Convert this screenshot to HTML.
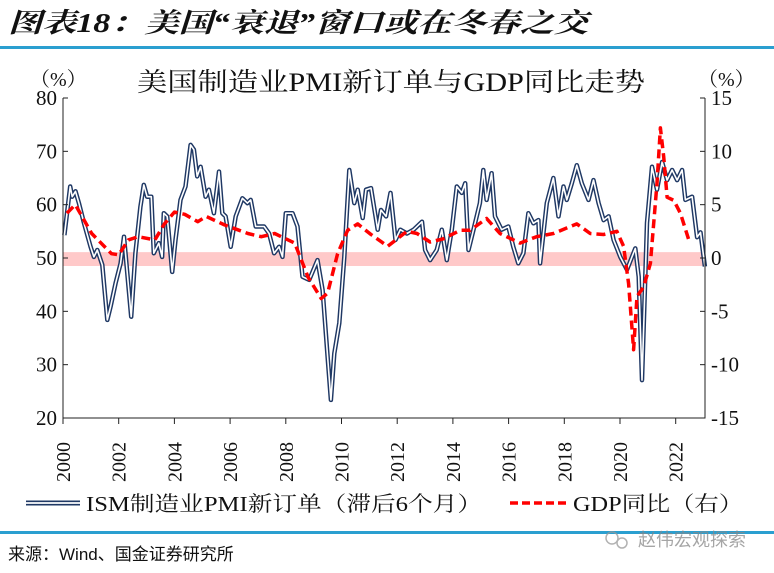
<!DOCTYPE html>
<html><head><meta charset="utf-8"><style>
html,body{margin:0;padding:0;background:#fff;}
svg{display:block;}
</style></head><body>
<svg width="774" height="573" viewBox="0 0 774 573" xmlns="http://www.w3.org/2000/svg">
<text x="8" y="32" font-family="'Liberation Serif','Noto Serif CJK SC',serif" font-size="27" font-weight="bold" font-style="italic" fill="#111" textLength="580" lengthAdjust="spacingAndGlyphs">图表18：美国“衰退”窗口或在冬春之交</text>
<rect x="0" y="46" width="774" height="3" fill="#2a9fd0"/>
<text x="391" y="91" text-anchor="middle" font-family="'Liberation Serif','Noto Serif CJK SC',serif" font-size="26" fill="#111" textLength="508" lengthAdjust="spacingAndGlyphs">美国制造业PMI新订单与GDP同比走势</text>
<text x="30" y="86" font-family="'Liberation Serif','Noto Serif CJK SC',serif" font-size="20" fill="#111">（%）</text>
<text x="698" y="86" font-family="'Liberation Serif','Noto Serif CJK SC',serif" font-size="20" fill="#111">（%）</text>
<g id="plot"></g>
<g>
<line x1="26" y1="503" x2="80" y2="503" stroke="#1f3864" stroke-width="5"/>
<line x1="26" y1="503" x2="80" y2="503" stroke="#fff" stroke-width="1.8"/>
<text x="86" y="511" font-family="'Liberation Serif','Noto Serif CJK SC',serif" font-size="21" fill="#111" textLength="396" lengthAdjust="spacingAndGlyphs">ISM制造业PMI新订单（滞后6个月）</text>
<line x1="510" y1="503" x2="567" y2="503" stroke="#ff0000" stroke-width="3.5" stroke-dasharray="8,4"/>
<text x="573" y="511" font-family="'Liberation Serif','Noto Serif CJK SC',serif" font-size="21" fill="#111" textLength="170" lengthAdjust="spacingAndGlyphs">GDP同比（右）</text>
</g>
<rect x="0" y="531" width="774" height="3" fill="#2a9fd0"/>
<text x="8" y="560" font-family="'Liberation Sans','Noto Sans CJK SC',sans-serif" font-size="17" fill="#111">来源：Wind、国金证券研究所</text>
<g opacity="0.75">
<circle cx="612" cy="538" r="6" fill="none" stroke="#999" stroke-width="1.5"/>
<circle cx="622" cy="543" r="5" fill="none" stroke="#999" stroke-width="1.5"/>
<text x="638" y="546" font-family="'Liberation Sans','Noto Sans CJK SC',sans-serif" font-size="18" fill="#888">赵伟宏观探索</text>
</g>
</svg>
<script>
const ismYears=[2000.05,2000.26,2000.33,2000.45,2000.57,2000.75,2000.99,2001.11,2001.23,2001.41,2001.59,2001.71,2001.89,2002.07,2002.19,2002.45,2002.6,2002.78,2002.9,2003.02,2003.17,2003.26,2003.44,2003.56,2003.62,2003.74,2003.92,2004.04,2004.22,2004.40,2004.58,2004.70,2004.82,2004.94,2005.12,2005.24,2005.42,2005.6,2005.72,2005.84,2006.02,2006.2,2006.44,2006.62,2006.74,2006.92,2007.22,2007.40,2007.58,2007.76,2007.88,2008.0,2008.24,2008.42,2008.6,2008.84,2009.14,2009.32,2009.5,2009.62,2009.74,2009.92,2010.1,2010.28,2010.46,2010.58,2010.76,2010.88,2011.06,2011.30,2011.42,2011.6,2011.76,2011.94,2012.11,2012.35,2012.59,2012.89,2013.0,2013.18,2013.42,2013.6,2013.78,2013.96,2014.14,2014.32,2014.44,2014.56,2014.74,2014.97,2015.09,2015.21,2015.39,2015.51,2015.75,2015.99,2016.17,2016.35,2016.53,2016.71,2016.89,2017.07,2017.13,2017.25,2017.37,2017.61,2017.79,2017.97,2018.09,2018.27,2018.45,2018.63,2018.87,2019.05,2019.23,2019.41,2019.59,2019.77,2020.01,2020.25,2020.55,2020.67,2020.79,2020.97,2021.15,2021.33,2021.51,2021.69,2021.87,2022.05,2022.23,2022.35,2022.59,2022.77,2022.89,2023.05];
const ismValues=[54.3,63.4,61.5,62.5,60.3,56.6,52.1,50.2,51.5,48.7,38.4,40.9,45.3,49.0,54.0,39.0,50.9,59.6,63.7,61.5,61.5,50.9,52.8,50.2,58.4,57.8,47.4,53.4,60.9,63.4,71.2,70.3,65.3,67.1,61.5,62.8,58.4,66.2,58.4,57.8,52.1,57.8,61.2,60.3,60.9,55.9,55.9,54.6,50.9,52.1,50.2,58.4,58.4,55.9,46.5,45.9,49.6,44.0,31.5,23.4,32.1,37.8,50.2,66.5,60.3,62.8,57.5,62.8,63.1,55.3,59.0,57.8,62.2,53.4,55.3,54.6,55.3,56.8,51.5,49.6,51.5,55.3,49.6,55.3,63.4,62.2,64.0,51.5,55.3,60.3,66.5,60.9,65.9,57.8,55.3,55.9,52.1,49.0,50.9,58.4,56.5,57.1,49.0,54.6,60.3,65.0,57.8,63.4,60.9,64.0,67.4,64.0,60.9,64.6,60.3,57.1,57.8,53.4,50.2,47.8,51.8,46.5,27.1,56.6,67.1,62.8,68.0,64.6,66.5,64.6,66.5,60.9,61.5,53.9,54.8,48.4];
const gdpYears=[2000.14,2000.44,2001.03,2001.74,2002.0,2002.35,2002.7,2003.3,2003.64,2004.0,2004.37,2004.84,2005.14,2005.8,2006.64,2007.12,2007.6,2008.32,2008.8,2009.27,2009.5,2009.86,2010.22,2010.58,2011.06,2011.66,2012.35,2012.71,2013.18,2013.66,2014.26,2014.62,2015.21,2015.69,2016.41,2017.0,2017.61,2018.45,2018.93,2019.41,2019.89,2020.13,2020.31,2020.49,2020.61,2020.85,2021.09,2021.33,2021.45,2021.57,2021.69,2021.93,2022.17,2022.47];
const gdpValues=[4.2,5.0,2.3,0.4,0.3,1.7,2.0,1.7,3.2,4.3,4.1,3.4,3.9,3.1,2.3,2.0,2.3,1.4,-1.8,-3.8,-3.3,0.4,2.6,3.2,2.2,1.1,2.5,2.3,1.5,1.8,2.6,2.6,3.7,2.3,1.4,2.0,2.3,3.2,2.3,2.2,2.5,1.1,-2.4,-8.6,-3.6,-2.7,-0.5,7.0,12.2,9.5,5.7,5.4,4.2,1.7];
const leftTicks=[80,70,60,50,40,30,20];
const rightTicks=[15,10,5,0,-5,-10,-15];
const yearTicks=[2000,2002,2004,2006,2008,2010,2012,2014,2016,2018,2020,2022];

const NS='http://www.w3.org/2000/svg';
const X0=63,X1=705,Y0=98,Y1=418;
const xs=y=>X0+(y-2000)*27.85;
const yL=v=>Y0+(80-v)*(Y1-Y0)/60;
const yR=v=>Y0+(15-v)*(Y1-Y0)/30;
const plot=document.getElementById('plot');
function mk(tag,attrs){const e=document.createElementNS(NS,tag);for(const k in attrs)e.setAttribute(k,attrs[k]);plot.appendChild(e);return e;}

const band=mk('rect',{x:X0,y:yL(51.1),width:X1-X0,height:yL(48.5)-yL(51.1),fill:'#ffc9c9'});



const ismD=ismYears.map((y,i)=>(i?'L':'M')+xs(y).toFixed(1)+','+yL(ismValues[i]).toFixed(1)).join(' ');
const ismOuter=mk('path',{d:ismD,fill:'none',stroke:'#1f3864','stroke-width':4.5,'stroke-linejoin':'round'});


const ismInner=mk('path',{d:ismD,fill:'none',stroke:'#fff','stroke-width':1.6,'stroke-linejoin':'round'});



const gdpD=gdpYears.map((y,i)=>(i?'L':'M')+xs(y).toFixed(1)+','+yR(gdpValues[i]).toFixed(1)).join(' ');
const gdp=mk('path',{d:gdpD,fill:'none',stroke:'#ff0000','stroke-width':3.5,'stroke-dasharray':'9,5','stroke-linejoin':'round'});



const frame=mk('path',{d:`M${X0},${Y0}V${Y1}H${X1}V${Y0}`,fill:'none',stroke:'#222','stroke-width':1});



leftTicks.forEach(v=>{
  const t=mk('line',{x1:X0,x2:X0+5,y1:yL(v),y2:yL(v),stroke:'#222'});
  
  
  const l=mk('text',{x:X0-6,y:yL(v)+7,'text-anchor':'end','font-family':"'Liberation Serif',serif",'font-size':21,fill:'#111'});
  l.textContent=v;
  
  
});
rightTicks.forEach(v=>{
  const t=mk('line',{x1:X1-5,x2:X1,y1:yR(v),y2:yR(v),stroke:'#222'});
  
  
  const l=mk('text',{x:X1+6,y:yR(v)+7,'text-anchor':'start','font-family':"'Liberation Serif',serif",'font-size':21,fill:'#111'});
  l.textContent=v;
  
  
});
yearTicks.forEach(yr=>{
  const x=xs(yr);
  const t=mk('line',{x1:x,x2:x,y1:Y1,y2:Y1+6,stroke:'#222'});
  
  
  const l=mk('text',{x:0,y:0,transform:`translate(${x+7},${Y1+64}) rotate(-90)`,'font-family':"'Liberation Serif',serif",'font-size':20,fill:'#111'});
  l.textContent=yr;
  
  
});
</script>
</body></html>
